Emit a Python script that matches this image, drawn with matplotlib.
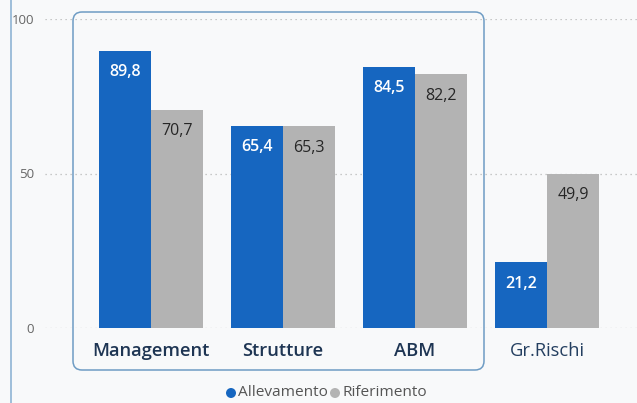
import numpy as np
import matplotlib
matplotlib.use("Agg")
import matplotlib.pyplot as plt
from matplotlib.patches import FancyBboxPatch

categories = ["Management", "Strutture", "ABM", "Gr.Rischi"]
allevamento = [89.8, 65.4, 84.5, 21.2]
riferimento = [70.7, 65.3, 82.2, 49.9]
y_ticks = [0, 50, 100]
selected = [True, True, True, False]

blue = "#1666c0"
grey = "#b3b3b3"
bg = "#f8f9fa"

plt.rcParams["font.family"] = ["Open Sans", "DejaVu Sans"]

fig = plt.figure(figsize=(6.37, 4.03), dpi=100)
fig.patch.set_facecolor(bg)

# ----------------------------------------------------------------# overlay in pixel units
ov = fig.add_axes([0, 0, 1, 1], zorder=0)
ov.set_xlim(0, 637)
ov.set_ylim(403, 0)
ov.axis("off")
ov.patch.set_alpha(0)
ov.plot([11, 11], [0, 403], color="#8fb4d4", lw=1.2)
ov.add_patch(FancyBboxPatch((73, 12), 411, 358, boxstyle="round,pad=0,rounding_size=9",
                            fc="none", ec="#6e9cc4", lw=1.1))

# ----------------------------------------------------------------# bars
ax = fig.add_axes([45 / 637, 75 / 403, 592 / 637, 309 / 403], zorder=1)
ax.patch.set_alpha(0)
x = np.arange(len(categories))
w = 52 / 132
b1 = ax.bar(x - w / 2, allevamento, w, color=blue)
b2 = ax.bar(x + w / 2, riferimento, w, color=grey)
ax.set_xlim((45 - 151) / 132, (637 - 151) / 132)
ax.set_ylim(0, 100)
for s in ax.spines.values():
    s.set_visible(False)
ax.set_yticks(y_ticks)
ax.tick_params(axis="y", length=0, pad=8, labelsize=9.5, labelcolor="#666666")
ax.yaxis.grid(True, linestyle=(0, (1, 3)), color="#b8b8b8", lw=0.9)
ax.set_axisbelow(True)
ax.set_xticks([])

fmt = lambda v: f"{v:.1f}".replace(".", ",")
for bars, vals, col, wt in [(b1, allevamento, "white", "semibold"), (b2, riferimento, "#262626", "normal")]:
    for r, v in zip(bars, vals):
        ax.annotate(fmt(v), (r.get_x() + r.get_width() / 2, r.get_height()),
                    xytext=(0, -15.5), textcoords="offset points", ha="center", va="center",
                    fontsize=11.5, fontweight=wt, color=col)

for i, c in enumerate(categories):
    ax.text(x[i], -7.3, c, ha="center", va="center", fontsize=13.2,
            fontweight="semibold" if selected[i] else "normal",
            color="#1e3553" if selected[i] else "#243f60")

# ----------------------------------------------------------------# legend
ov.scatter([231, 335], [393, 393], s=38, color=[blue, grey], zorder=3)
ov.text(238, 392.5, "Allevamento", va="center", fontsize=11.1, color="#555555")
ov.text(342, 392.5, "Riferimento", va="center", fontsize=11.1, color="#555555")

fig.savefig("out.png", dpi=100, facecolor=bg)
